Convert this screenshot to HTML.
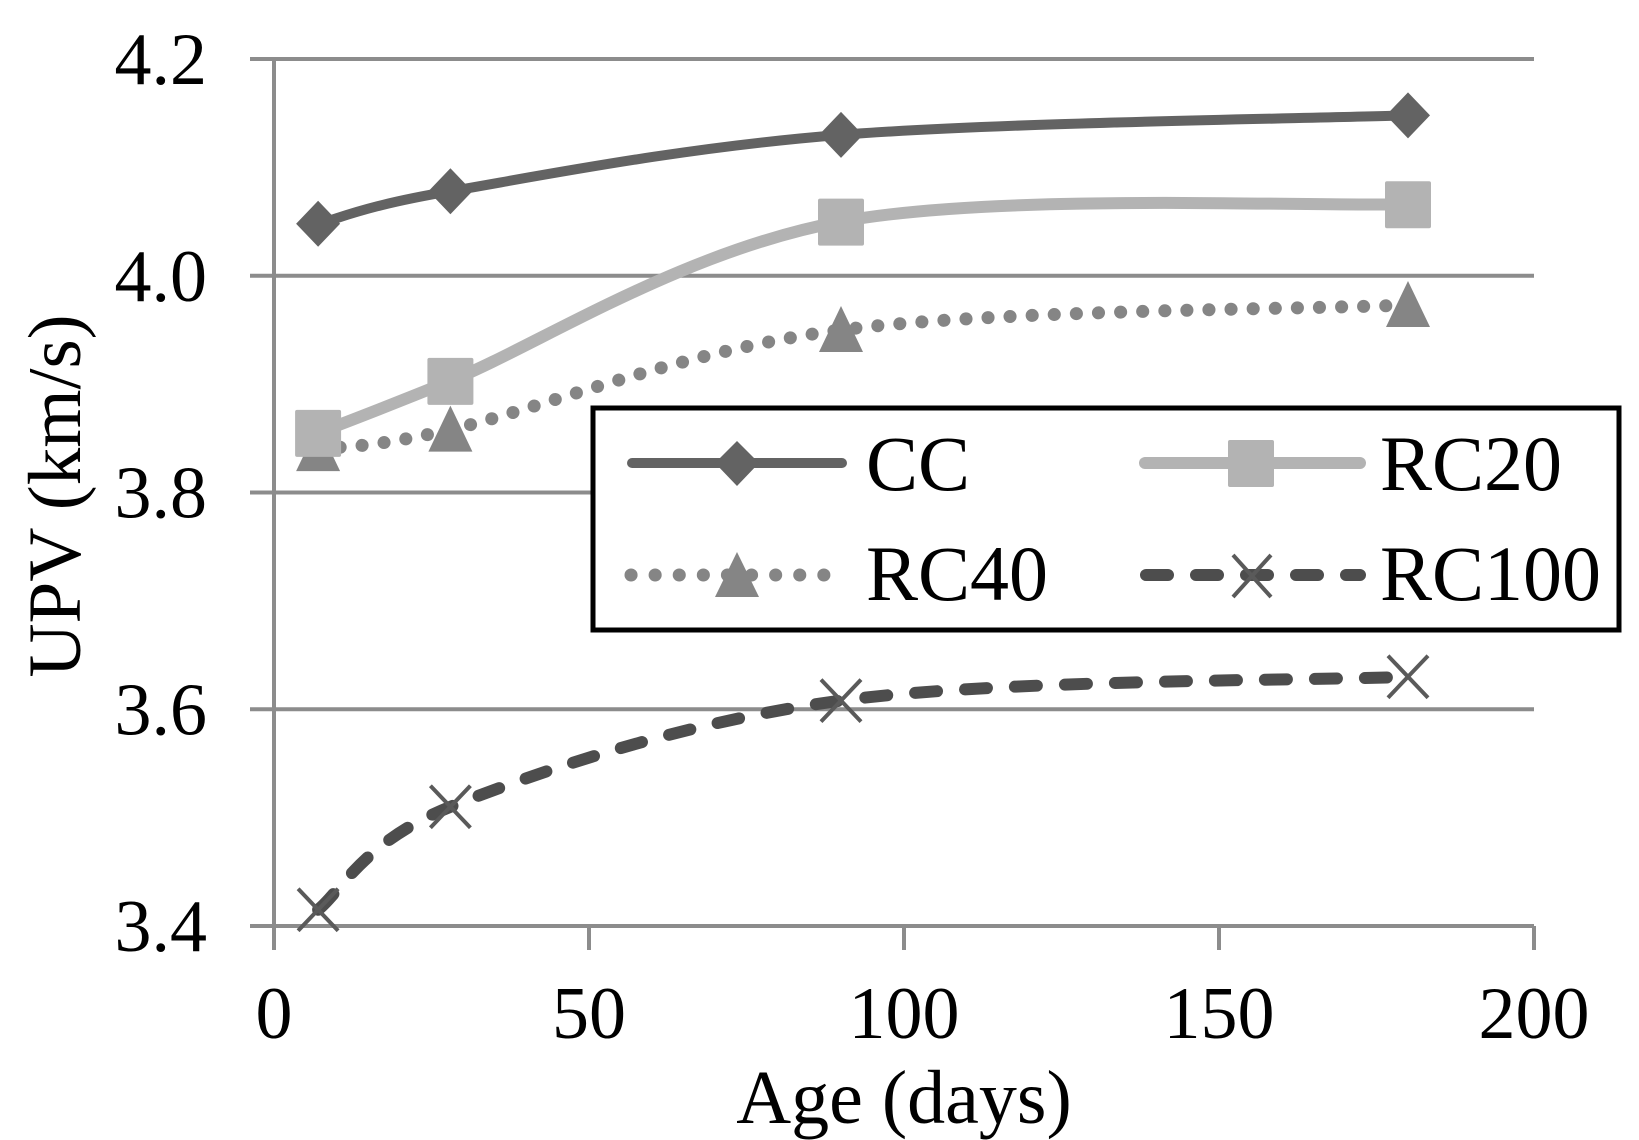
<!DOCTYPE html>
<html><head><meta charset="utf-8"><style>
html,body{margin:0;padding:0;background:#fff;}
svg{display:block;font-family:"Liberation Serif","Times New Roman",serif;}
</style></head><body>
<svg id="chart" width="1639" height="1140" viewBox="0 0 1639 1140" xmlns="http://www.w3.org/2000/svg">
<g id="grid"></g>
<g id="axes"></g>
<g id="series"></g>
<text x="0" y="0" font-size="75" text-anchor="middle" transform="translate(80,496) rotate(-90)">UPV (km/s)</text>
<text x="904" y="1123" font-size="76" text-anchor="middle">Age (days)</text>
<g>
<rect x="593" y="408" width="1026" height="222" fill="#fff" stroke="#000" stroke-width="5"/>
<g>
<line x1="632" y1="463" x2="842" y2="463" stroke="#636363" stroke-width="10" stroke-linecap="round"/>
<polygon points="737,441 759,463 737,486 715,463" fill="#636363"/>
<text x="866" y="490" font-size="78">CC</text></g>
<g>
<line x1="1145" y1="463" x2="1360" y2="463" stroke="#b3b3b3" stroke-width="12" stroke-linecap="round"/>
<rect x="1228" y="440" width="46" height="47" rx="2" fill="#b3b3b3"/>
<text x="1380" y="490" font-size="78">RC20</text></g>
<g>
<line x1="631" y1="575" x2="842" y2="575" stroke="#858585" stroke-width="13" stroke-linecap="round" stroke-dasharray="0.1 24"/>
<polygon points="737,552 759,597 715,597" fill="#858585"/>
<text x="866" y="600" font-size="78">RC40</text></g>
<g>
<line x1="1146" y1="575" x2="1360" y2="575" stroke="#4d4d4d" stroke-width="12" stroke-linecap="round" stroke-dasharray="22 28"/>
<path d="M1233,555 L1271,597 M1271,555 L1233,597" stroke="#5a5a5a" stroke-width="4"/>
<text x="1380" y="600" font-size="78">RC100</text></g>
</g>
</svg>
<script>
const days = [7, 28, 90, 180];
const cc = [4.048, 4.078, 4.13, 4.148];
const rc20 = [3.855, 3.903, 4.05, 4.066];
const rc40 = [3.84, 3.858, 3.95, 3.973];
const rc100 = [3.415, 3.51, 3.608, 3.63];
const yTicks = [3.4, 3.6, 3.8, 4.0, 4.2];
const yTickLabels = ["3.4", "3.6", "3.8", "4.0", "4.2"];
const xTicks = [0, 50, 100, 150, 200];
const xTickLabels = ["0", "50", "100", "150", "200"];

const NS = "http://www.w3.org/2000/svg";
const X0 = 274, X1 = 1534, Y0 = 926, Y1 = 59;
function sx(v){ return X0 + (v - 0) / 200 * (X1 - X0); }
function sy(v){ return Y0 - (v - 3.4) / 0.8 * (Y0 - Y1); }
function mk(tag, attrs, parent){ const e = document.createElementNS(NS, tag); for (const k in attrs) e.setAttribute(k, attrs[k]); parent.appendChild(e); return e; }

const grid = document.getElementById('grid');
const axes = document.getElementById('axes');
const series = document.getElementById('series');

yTicks.forEach((t, i) => {
  const y = sy(t);
  const g = mk('line', {x1: 250, y1: y, x2: X1, y2: y, stroke: '#8c8c8c', 'stroke-width': 4}, grid);
  
  
  const tx = mk('text', {x: 207, y: y + 25, 'font-size': 74, 'text-anchor': 'end'}, axes);
  tx.textContent = yTickLabels[i];
  
  
});
const ya = mk('line', {x1: X0, y1: Y1, x2: X0, y2: Y0 + 24, stroke: '#8c8c8c', 'stroke-width': 4}, axes);


xTicks.forEach((t, i) => {
  const x = sx(t);
  const tk = mk('line', {x1: x, y1: Y0, x2: x, y2: Y0 + 24, stroke: '#8c8c8c', 'stroke-width': 4}, axes);
  
  
  const tx = mk('text', {x: x, y: 1038, 'font-size': 74, 'text-anchor': 'middle'}, axes);
  tx.textContent = xTickLabels[i];
  
  
});

function smoothPath(xs, ys){
  const p = xs.map((x, i) => [sx(x), sy(ys[i])]);
  let d = 'M' + p[0][0] + ',' + p[0][1];
  for (let i = 0; i < p.length - 1; i++) {
    const p0 = p[i - 1] || p[i], p1 = p[i], p2 = p[i + 1], p3 = p[i + 2] || p[i + 1];
    const c1 = [p1[0] + (p2[0] - p0[0]) / 6, p1[1] + (p2[1] - p0[1]) / 6];
    const c2 = [p2[0] - (p3[0] - p1[0]) / 6, p2[1] - (p3[1] - p1[1]) / 6];
    d += ' C' + c1 + ' ' + c2 + ' ' + p2;
  }
  return d;
}

function drawSeries(name, vals, stroke, width, dash, marker, mcolor){
  const g = mk('g', {}, series);
  
  
  const attrs = {d: smoothPath(days, vals), fill: 'none', stroke: stroke, 'stroke-width': width, 'stroke-linecap': 'round'};
  if (dash) attrs['stroke-dasharray'] = dash;
  const pth = mk('path', attrs, g);
  
  
  days.forEach((d, i) => {
    const x = sx(d), y = sy(vals[i]);
    let m;
    if (marker === 'diamond') m = mk('polygon', {points: `${x},${y-23} ${x+22},${y} ${x},${y+23} ${x-22},${y}`, fill: mcolor}, g);
    else if (marker === 'square') m = mk('rect', {x: x - 23, y: y - 23, width: 46, height: 47, rx: 2, fill: mcolor}, g);
    else if (marker === 'triangle') m = mk('polygon', {points: `${x},${y-24} ${x+22},${y+22} ${x-22},${y+22}`, fill: mcolor}, g);
    else m = mk('path', {d: `M${x-20},${y-21} L${x+20},${y+21} M${x+20},${y-21} L${x-20},${y+21}`, stroke: mcolor, 'stroke-width': 4}, g);
    
    
  });
}
drawSeries('rc100', rc100, '#4d4d4d', 12, '22 28', 'x', '#5a5a5a');
drawSeries('rc40', rc40, '#858585', 13, '0.1 22', 'triangle', '#858585');
drawSeries('rc20', rc20, '#b3b3b3', 12, null, 'square', '#b3b3b3');
drawSeries('cc', cc, '#636363', 10, null, 'diamond', '#636363');
</script>
</body></html>
